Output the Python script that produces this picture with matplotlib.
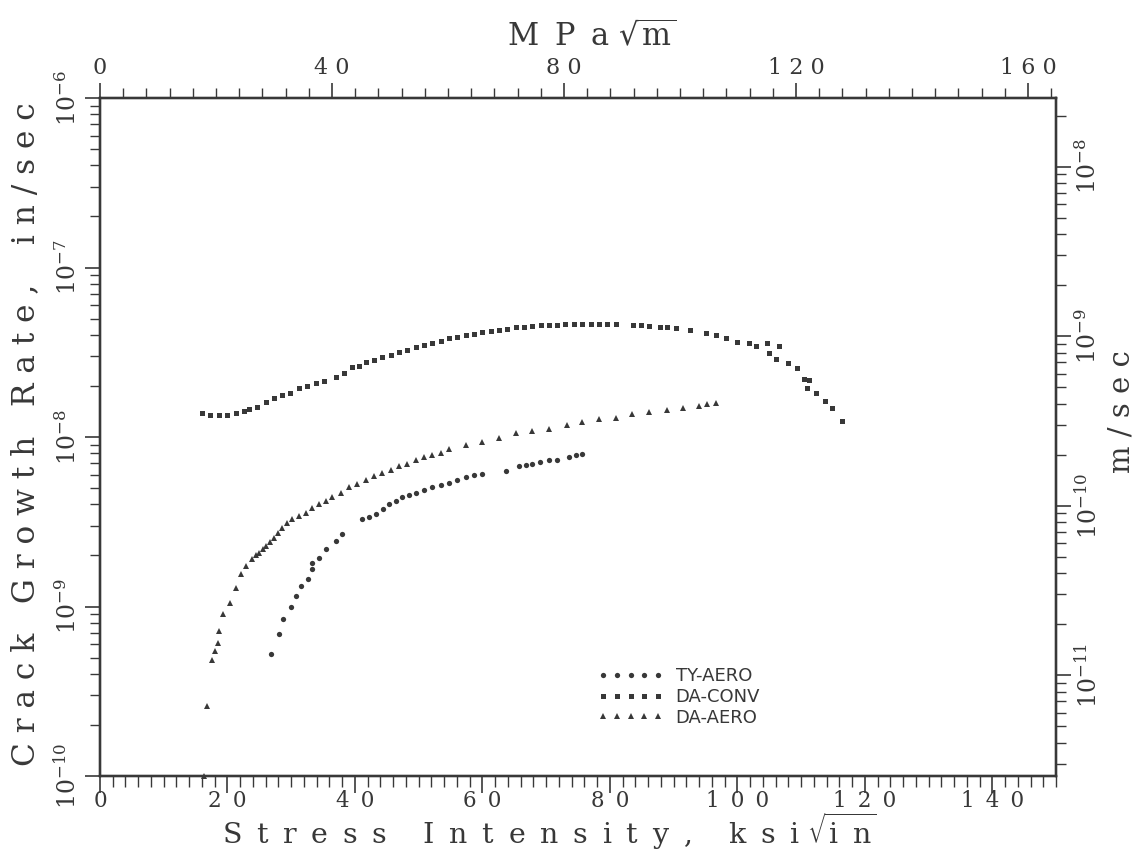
import math
import matplotlib
matplotlib.use("Agg")
import matplotlib.pyplot as plt
from matplotlib.ticker import FixedLocator, MultipleLocator, NullFormatter, FuncFormatter

plt.rcParams['font.family'] = ['DejaVu Serif']
plt.rcParams['mathtext.fontset'] = 'dejavuserif'

# stress intensity (ksi sqrt(in)) and crack growth rate (in/sec)
ty_aero_k = [26.8, 28.1, 28.7, 30.0, 30.8, 31.6, 32.7, 33.3, 33.3, 34.4, 35.5, 37.0, 38.0,
             41.1, 42.2, 43.3, 44.4, 45.4, 46.5, 47.4, 48.5, 49.6, 50.9, 52.1, 53.5, 54.8,
             56.0, 57.5, 58.7, 60.0, 63.7, 65.8, 66.9, 67.8, 69.1, 70.5, 71.7, 73.6, 74.7,
             75.7]
ty_aero_rate = [5.26e-10, 6.90e-10, 8.47e-10, 9.98e-10, 1.16e-9, 1.33e-9, 1.46e-9, 1.67e-9,
                1.81e-9, 1.94e-9, 2.19e-9, 2.44e-9, 2.69e-9,
                3.30e-9, 3.39e-9, 3.53e-9, 3.78e-9, 4.05e-9, 4.22e-9, 4.40e-9, 4.57e-9,
                4.70e-9, 4.90e-9, 5.04e-9, 5.24e-9, 5.38e-9, 5.61e-9, 5.77e-9, 5.93e-9,
                6.08e-9, 6.33e-9, 6.70e-9, 6.88e-9, 6.97e-9, 7.16e-9, 7.27e-9, 7.36e-9,
                7.57e-9, 7.78e-9, 7.98e-9]

da_conv_k = [16.0, 17.3, 18.7, 19.9, 21.4, 22.6, 23.4, 24.6, 26.1, 27.3, 28.6, 29.8, 31.3,
             32.5, 33.9, 35.2, 37.0, 38.3, 39.6, 40.7, 41.8, 43.0, 44.3, 45.7, 46.9, 48.2,
             49.6, 50.9, 52.1, 53.5, 54.8, 56.0, 57.5, 58.7, 60.0, 61.4, 62.6, 63.9, 65.3,
             66.6, 67.8, 69.2, 70.5, 71.7, 73.0, 74.4, 75.7, 77.1, 78.3, 79.6, 81.0, 83.7,
             84.9, 86.2, 87.8, 89.0, 90.4, 92.5, 95.1, 96.7, 98.3, 100.0, 101.9, 103.0,
             104.6, 105.0, 106.6, 106.1, 107.9, 109.3, 110.5, 111.3, 111.0, 112.4, 113.7,
             114.9, 116.5]
da_conv_rate = [1.38e-8, 1.34e-8, 1.34e-8, 1.34e-8, 1.38e-8, 1.42e-8, 1.47e-8, 1.51e-8,
                1.60e-8, 1.69e-8, 1.76e-8, 1.83e-8, 1.94e-8, 1.99e-8, 2.07e-8, 2.13e-8,
                2.25e-8, 2.37e-8, 2.58e-8, 2.64e-8, 2.76e-8, 2.83e-8, 2.95e-8, 3.03e-8,
                3.16e-8, 3.24e-8, 3.38e-8, 3.47e-8, 3.57e-8, 3.67e-8, 3.82e-8, 3.87e-8,
                3.98e-8, 4.03e-8, 4.14e-8, 4.20e-8, 4.26e-8, 4.31e-8, 4.43e-8, 4.43e-8,
                4.50e-8, 4.56e-8, 4.56e-8, 4.56e-8, 4.62e-8, 4.62e-8, 4.62e-8, 4.62e-8,
                4.62e-8, 4.62e-8, 4.62e-8, 4.56e-8, 4.56e-8, 4.50e-8, 4.43e-8, 4.43e-8,
                4.38e-8, 4.26e-8, 4.09e-8, 3.98e-8, 3.82e-8, 3.62e-8, 3.57e-8, 3.42e-8,
                3.57e-8, 3.11e-8, 3.42e-8, 2.87e-8, 2.72e-8, 2.54e-8, 2.19e-8, 2.16e-8,
                1.94e-8, 1.81e-8, 1.64e-8, 1.49e-8, 1.25e-8]

da_aero_k = [16.3, 16.8, 17.6, 18.1, 18.5, 18.7, 19.3, 20.4, 21.4, 22.1, 22.9, 23.9, 24.5,
             25.0, 25.6, 26.1, 26.7, 27.3, 27.9, 28.6, 29.4, 30.1, 31.2, 32.3, 33.3, 34.4,
             35.5, 36.4, 37.8, 39.1, 40.3, 41.8, 43.0, 44.3, 45.7, 46.9, 48.2, 49.6, 50.9,
             52.1, 53.5, 54.8, 57.5, 60.0, 62.6, 65.3, 67.8, 70.5, 73.2, 75.7, 78.3, 81.0,
             83.5, 86.2, 88.9, 91.4, 94.0, 95.3, 96.7]
da_aero_rate = [1.0e-10, 2.59e-10, 4.84e-10, 5.48e-10, 6.11e-10, 7.19e-10, 9.06e-10, 1.05e-9,
                1.29e-9, 1.56e-9, 1.74e-9, 1.91e-9, 2.00e-9, 2.08e-9, 2.19e-9, 2.29e-9,
                2.41e-9, 2.55e-9, 2.73e-9, 2.92e-9, 3.13e-9, 3.30e-9, 3.44e-9, 3.58e-9,
                3.83e-9, 4.05e-9, 4.22e-9, 4.40e-9, 4.70e-9, 5.04e-9, 5.31e-9, 5.61e-9,
                5.85e-9, 6.17e-9, 6.43e-9, 6.70e-9, 6.97e-9, 7.27e-9, 7.57e-9, 7.78e-9,
                8.10e-9, 8.44e-9, 8.91e-9, 9.40e-9, 9.93e-9, 1.05e-8, 1.09e-8, 1.12e-8,
                1.17e-8, 1.22e-8, 1.27e-8, 1.30e-8, 1.36e-8, 1.40e-8, 1.45e-8, 1.49e-8,
                1.53e-8, 1.56e-8, 1.58e-8]

KSI_TO_MPA = 1.0988
IN_TO_M = 0.0254
INK = '#383838'
GAP = ' \u2009'


def spaced(text, gap=' '):
    return gap.join(text)


def pow10_label(v, pos):
    return r'$10^{%d}$' % int(round(math.log10(v)))


def log_minors(lo, hi):
    return [m * 10.0 ** e for e in range(lo, hi) for m in range(2, 10)]


fig = plt.figure(figsize=(11.38, 8.55), dpi=100)
ax = fig.add_axes([100 / 1138, 1 - 776 / 855, 956 / 1138, 678 / 855])
ax.set_yscale('log')
ax.set_xlim(0, 150)
ax.set_ylim(1e-10, 1e-6)

ax.plot(ty_aero_k, ty_aero_rate, ls='none', marker='o', ms=3.8, color=INK, mew=0, label='TY-AERO')
ax.plot(da_conv_k, da_conv_rate, ls='none', marker='s', ms=3.6, color=INK, mew=0, label='DA-CONV')
ax.plot(da_aero_k, da_aero_rate, ls='none', marker='^', ms=5.0, color=INK, mew=0, label='DA-AERO',
        clip_on=False)

# bottom / left axes
ax.xaxis.set_major_locator(FixedLocator([0, 20, 40, 60, 80, 100, 120, 140]))
ax.xaxis.set_minor_locator(MultipleLocator(2))
ax.xaxis.set_major_formatter(FuncFormatter(lambda v, p: spaced('%d' % v, GAP)))
ax.yaxis.set_major_locator(FixedLocator([1e-10, 1e-9, 1e-8, 1e-7, 1e-6]))
ax.yaxis.set_minor_locator(FixedLocator(log_minors(-10, -6)))
ax.yaxis.set_minor_formatter(NullFormatter())
ax.yaxis.set_major_formatter(FuncFormatter(pow10_label))
ax.tick_params(axis='x', which='major', length=12, width=1.2, pad=-2, labelsize=15.5, colors=INK)
ax.tick_params(axis='x', which='minor', length=8, width=1.0, colors=INK)
ax.tick_params(axis='y', which='major', length=11, width=1.2, pad=3, labelsize=17, colors=INK,
               labelrotation=90)
ax.tick_params(axis='y', which='minor', length=7, width=1.0, colors=INK)
for lab in ax.get_yticklabels():
    lab.set_va('center')

# top axis in MPa sqrt(m)
ax_top = ax.twiny()
ax_top.set_xlim(0, 150 * KSI_TO_MPA)
ax_top.xaxis.set_major_locator(FixedLocator([0, 40, 80, 120, 160]))
ax_top.xaxis.set_minor_locator(MultipleLocator(4))
ax_top.xaxis.set_major_formatter(FuncFormatter(lambda v, p: spaced('%d' % v)))
ax_top.tick_params(axis='x', which='major', length=11, width=1.2, pad=3, labelsize=16, colors=INK)
ax_top.tick_params(axis='x', which='minor', length=7, width=1.0, colors=INK)

# right axis in m/sec
ax_r = ax.twinx()
ax_r.set_yscale('log')
ax_r.set_ylim(1e-10 * IN_TO_M, 1e-6 * IN_TO_M)
ax_r.yaxis.set_major_locator(FixedLocator([1e-11, 1e-10, 1e-9, 1e-8]))
ax_r.yaxis.set_minor_locator(FixedLocator([v for v in log_minors(-12, -7) if 2.54e-12 <= v <= 2.54e-8]))
ax_r.yaxis.set_minor_formatter(NullFormatter())
ax_r.yaxis.set_major_formatter(FuncFormatter(pow10_label))
ax_r.tick_params(axis='y', which='major', length=11, width=1.2, pad=3, labelsize=17, colors=INK,
                 labelrotation=90)
ax_r.tick_params(axis='y', which='minor', length=7, width=1.0, colors=INK)
for lab in ax_r.get_yticklabels():
    lab.set_va('center')

for a in (ax, ax_top, ax_r):
    for sp in a.spines.values():
        sp.set_color(INK)
        sp.set_linewidth(1.6)

xlabel = (spaced('Stress', GAP) + '    ' + spaced('Intensity,', GAP) + '    ' + spaced('ksi', GAP)
          + r' $\sqrt{\mathrm{i}\;\;\mathrm{n}}$')
fig.text(549 / 1138, 1 - 844 / 855, xlabel, ha='center', va='baseline', fontsize=20.5, color=INK)
fig.text(26 / 1138, 1 - 434 / 855, spaced('Crack Growth Rate,') + '    ' + spaced('in/sec'),
         ha='center', va='center', rotation=90, fontsize=22.5, color=INK)
fig.text(592 / 1138, 1 - 37 / 855, spaced('MPa', GAP) + r' $\sqrt{\mathrm{m}}$',
         ha='center', va='center', fontsize=22, color=INK)
fig.text(1121 / 1138, 1 - 412 / 855, spaced('m/sec'),
         ha='center', va='center', rotation=90, fontsize=21, color=INK)

ax.legend(loc='upper left', bbox_to_anchor=(598 / 1138, 1 - 667 / 855),
          bbox_transform=fig.transFigure, frameon=False, numpoints=5, handlelength=3.6,
          handletextpad=0.7, labelspacing=0.16, borderpad=0, borderaxespad=0,
          prop={'family': 'DejaVu Sans', 'size': 13}, labelcolor=INK)

fig.savefig('out.png', dpi=100, facecolor='white')
